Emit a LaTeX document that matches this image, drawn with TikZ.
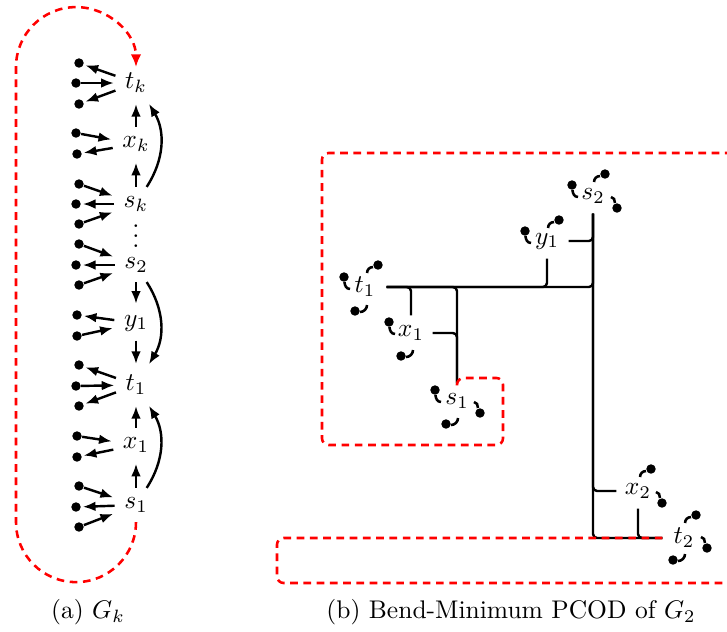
\documentclass[tikz,border=0pt]{standalone}
\usetikzlibrary{arrows.meta}
\newcommand\hkA[1]{\draw[hook] (#1) ++(0.5,-5) to[out=-90,in=180] ++(5.5,-7);}
\newcommand\hkB[1]{\draw[hook] (#1) ++(-11,-8) to[out=90,in=180] ++(6,6);}
\newcommand\hkC[1]{\draw[hook] (#1) ++(-6,11) to[out=0,in=90] ++(4,-6);}
\newcommand\hkD[1]{\draw[hook] (#1) ++(5,-1) to[out=0,in=-90] ++(7,7);}
\begin{document}
\begin{tikzpicture}[x=0.392pt,y=0.392pt,
  lab/.style={inner sep=3.6pt},
  dot/.style={circle,fill,inner sep=0pt,minimum size=3.7pt},
  arr/.style={line width=0.95pt,-{Latex[length=5pt,width=3.8pt]},shorten >=0.6pt},
  rlab/.style={inner sep=0pt,minimum width=16.5pt,minimum height=13.5pt},
  edge/.style={line width=0.95pt,rounded corners=1.6pt},
  hook/.style={line width=1pt},
  reddash/.style={red,line width=1pt,dash pattern=on 3pt off 2.2pt},
]
\useasboundingbox (0,0) rectangle (727,-631);
\clip (0,0) rectangle (727,-631);

% ---------- (a) left column ----------
\node[lab] (Ltk) at (136,-83) {$t_k$};
\node[lab] (Lxk) at (136,-144) {$x_k$};
\node[lab] (Lsk) at (136,-204) {$s_k$};
\node[inner sep=0pt] (Lvd) at (136,-236) {\vbox{\baselineskip=4pt\lineskiplimit=0pt\hbox{.}\hbox{.}\hbox{.}}};
\node[lab] (Ls2) at (136,-265) {$s_2$};
\node[lab] (Ly1) at (136,-323) {$y_1$};
\node[lab] (Lt1) at (136,-385) {$t_1$};
\node[lab] (Lx1) at (136,-445) {$x_1$};
\node[lab] (Ls1) at (136,-505) {$s_1$};

\node[dot] (Ltka) at (79,-63) {};
\node[dot] (Ltkb) at (76,-83) {};
\node[dot] (Ltkc) at (79,-104) {};
\node[dot] (Lxka) at (76,-133) {};
\node[dot] (Lxkb) at (77,-154) {};
\node[dot] (Lska) at (79,-184) {};
\node[dot] (Lskb) at (76,-204) {};
\node[dot] (Lskc) at (79,-224) {};
\node[dot] (Ls2a) at (79,-244) {};
\node[dot] (Ls2b) at (76,-265) {};
\node[dot] (Ls2c) at (79,-285) {};
\node[dot] (Ly1a) at (77,-315) {};
\node[dot] (Ly1b) at (77,-336) {};
\node[dot] (Lt1a) at (79,-365) {};
\node[dot] (Lt1b) at (76,-386) {};
\node[dot] (Lt1c) at (79,-406) {};
\node[dot] (Lx1a) at (77,-436) {};
\node[dot] (Lx1b) at (77,-457) {};
\node[dot] (Ls1a) at (79,-486) {};
\node[dot] (Ls1b) at (76,-507) {};
\node[dot] (Ls1c) at (79,-527) {};

\draw[arr] (Ltk) -- (Ltka);
\draw[arr] (Ltkb) -- (Ltk);
\draw[arr] (Ltk) -- (Ltkc);
\draw[arr] (Lxka) -- (Lxk);
\draw[arr] (Lxk) -- (Lxkb);
\draw[arr] (Lska) -- (Lsk);
\draw[arr] (Lsk) -- (Lskb);
\draw[arr] (Lskc) -- (Lsk);
\draw[arr] (Ls2a) -- (Ls2);
\draw[arr] (Ls2) -- (Ls2b);
\draw[arr] (Ls2c) -- (Ls2);
\draw[arr] (Ly1) -- (Ly1a);
\draw[arr] (Ly1b) -- (Ly1);
\draw[arr] (Lt1) -- (Lt1a);
\draw[arr] (Lt1b) -- (Lt1);
\draw[arr] (Lt1) -- (Lt1c);
\draw[arr] (Lx1a) -- (Lx1);
\draw[arr] (Lx1) -- (Lx1b);
\draw[arr] (Ls1a) -- (Ls1);
\draw[arr] (Ls1) -- (Ls1b);
\draw[arr] (Ls1c) -- (Ls1);

\draw[arr] (Lsk) -- (Lxk);
\draw[arr] (Lxk) -- (Ltk);
\draw[arr] (Lsk) to[bend right=32] (Ltk);
\draw[arr] (Ls2) -- (Ly1);
\draw[arr] (Ly1) -- (Lt1);
\draw[arr] (Ls2) to[bend left=32] (Lt1);
\draw[arr] (Ls1) -- (Lx1);
\draw[arr] (Lx1) -- (Lt1);
\draw[arr] (Ls1) to[bend right=32] (Lt1);

\draw[reddash,-{Latex[length=5pt,width=4.2pt]}] (Ls1.south)
  arc[start angle=0,end angle=-180,radius=60] -- ++(0,455)
  arc[start angle=180,end angle=0,radius=60];

\node (capa) at (88,-612) {(a) $G_k$};

% ---------- (b) right drawing ----------
\node[rlab] (Rs2) at (593,-196) {$s_2$};
\node[rlab] (Ry1) at (547,-241) {$y_1$};
\node[rlab] (Rt1) at (365,-287) {$t_1$};
\node[rlab] (Rx1) at (411,-333) {$x_1$};
\node[rlab] (Rs1) at (457,-401) {$s_1$};
\node[rlab] (Rx2) at (638,-491) {$x_2$};
\node[rlab] (Rt2) at (684,-538) {$t_2$};

\draw[edge] (Rt1.east) -| (Rs2.south);
\draw[edge] (Ry1.east) -| (Rs2.south);
\draw[edge] (Ry1.south) |- (Rt1.east);
\draw[edge] (Rx1.north) |- (Rt1.east);
\draw[edge] (Rs1.north) |- (Rt1.east);
\draw[edge] (Rx1.east) -| (Rs1.north);
\draw[edge] (Rs2.south) |- (Rx2.west);
\draw[edge] (Rs2.south) |- (Rt2.west);
\draw[edge] (Rx2.south) |- (Rt2.west);

\node[dot] (Rs2a) at (572,-185) {};
\node[dot] (Rs2b) at (605,-174) {};
\node[dot] (Rs2c) at (617,-208) {};
\node[dot] (Ry1a) at (525,-231) {};
\node[dot] (Ry1b) at (559,-220) {};
\node[dot] (Rt1a) at (344,-277) {};
\node[dot] (Rt1b) at (378,-265) {};
\node[dot] (Rt1c) at (355,-311) {};
\node[dot] (Rx1a) at (389,-322) {};
\node[dot] (Rx1b) at (401,-356) {};
\node[dot] (Rs1a) at (435,-390) {};
\node[dot] (Rs1b) at (446,-424) {};
\node[dot] (Rs1c) at (480,-413) {};
\node[dot] (Rx2a) at (651,-469) {};
\node[dot] (Rx2b) at (662,-503) {};
\node[dot] (Rt2a) at (696,-515) {};
\node[dot] (Rt2b) at (707,-548) {};
\node[dot] (Rt2c) at (673,-560) {};

\hkA{Rs2a} \hkB{Rs2b} \hkC{Rs2c}
\hkA{Ry1a} \hkB{Ry1b}
\hkA{Rt1a} \hkB{Rt1b} \hkD{Rt1c}
\hkA{Rx1a} \hkD{Rx1b}
\hkA{Rs1a} \hkD{Rs1b} \hkC{Rs1c}
\hkB{Rx2a} \hkC{Rx2b}
\hkB{Rt2a} \hkC{Rt2b} \hkD{Rt2c}

\draw[reddash,rounded corners=2.6pt] (Rs1.north) ++(0,-2) |- (503,-378) |- (322,-445) |- (760,-153);
\draw[reddash,rounded corners=2.6pt] (Rt2.west) -| (277,-583) -- (760,-583);

\node (capb) at (511,-612) {(b) Bend-Minimum PCOD of $G_2$};
\end{tikzpicture}
\end{document}
